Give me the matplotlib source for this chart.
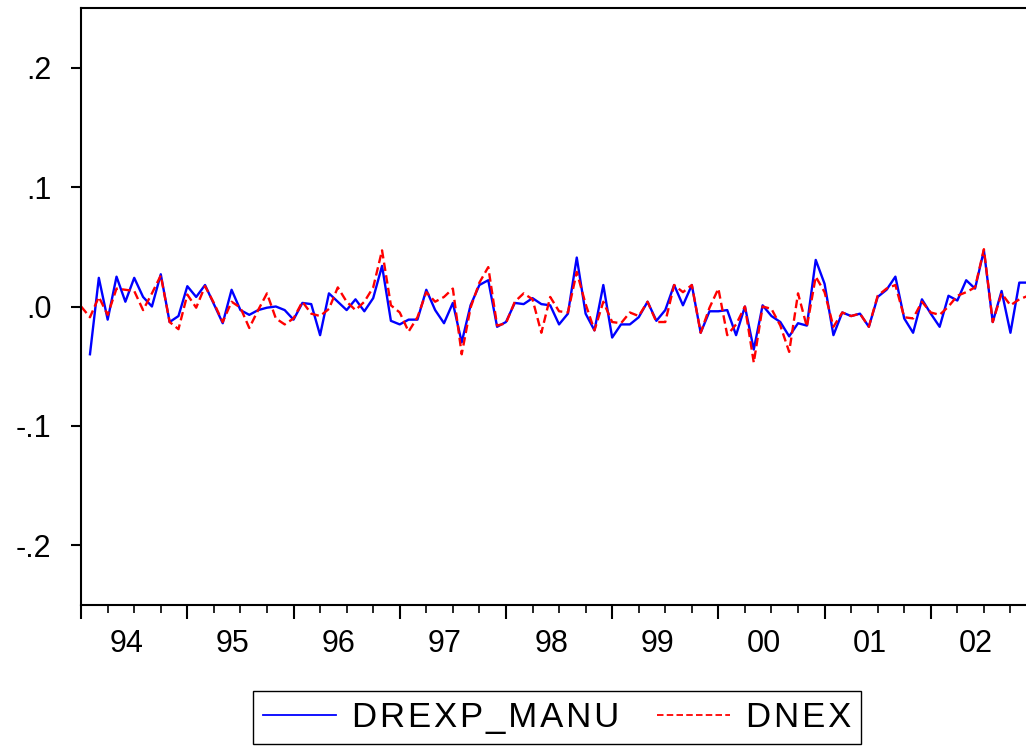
import numpy as np
import matplotlib.pyplot as plt

plt.rcParams['font.family'] = ['Liberation Sans', 'DejaVu Sans']

# monthly data, starting 1994M1
drexp_manu = [np.nan, -0.040, 0.024, -0.011, 0.025, 0.004, 0.024, 0.008, 0.000, 0.027,
              -0.013, -0.008, 0.017, 0.008, 0.018, 0.002, -0.014, 0.014, -0.003, -0.007,
              -0.003, -0.001, 0.000, -0.003, -0.011, 0.003, 0.002, -0.024, 0.011, 0.004,
              -0.003, 0.006, -0.004, 0.007, 0.034, -0.012, -0.015, -0.011, -0.011, 0.014,
              -0.003, -0.014, 0.003, -0.030, 0.001, 0.018, 0.022, -0.017, -0.013, 0.003,
              0.002, 0.007, 0.002, 0.001, -0.015, -0.006, 0.041, -0.006, -0.020, 0.018,
              -0.026, -0.015, -0.015, -0.009, 0.004, -0.012, -0.003, 0.018, 0.001, 0.018,
              -0.022, -0.004, -0.004, -0.003, -0.024, 0.000, -0.036, 0.001, -0.008, -0.013,
              -0.025, -0.014, -0.016, 0.039, 0.019, -0.024, -0.005, -0.008, -0.006, -0.017,
              0.008, 0.014, 0.025, -0.010, -0.022, 0.006, -0.006, -0.017, 0.009, 0.005,
              0.022, 0.015, 0.047, -0.013, 0.013, -0.022, 0.020, 0.020]
dnex = [0.000, -0.009, 0.008, -0.007, 0.015, 0.014, 0.013, -0.003, 0.011, 0.026,
        -0.013, -0.019, 0.010, -0.001, 0.017, 0.003, -0.013, 0.004, -0.001, -0.018,
        -0.003, 0.011, -0.010, -0.015, -0.010, 0.004, -0.006, -0.008, -0.002, 0.016,
        0.004, -0.003, 0.004, 0.016, 0.047, 0.001, -0.005, -0.021, -0.009, 0.012,
        0.004, 0.008, 0.015, -0.040, -0.001, 0.020, 0.033, -0.016, -0.014, 0.004,
        0.011, 0.006, -0.022, 0.008, -0.004, -0.005, 0.029, 0.002, -0.020, 0.004,
        -0.013, -0.014, -0.005, -0.008, 0.004, -0.013, -0.013, 0.018, 0.012, 0.018,
        -0.022, -0.001, 0.015, -0.024, -0.015, 0.000, -0.047, 0.000, -0.002, -0.016,
        -0.038, 0.011, -0.017, 0.025, 0.012, -0.017, -0.005, -0.008, -0.006, -0.017,
        0.009, 0.015, 0.018, -0.009, -0.010, 0.004, -0.005, -0.007, 0.000, 0.009,
        0.012, 0.016, 0.048, -0.013, 0.011, 0.001, 0.006, 0.009]
year_labels = ['94', '95', '96', '97', '98', '99', '00', '01', '02']
y_ticks = [-0.2, -0.1, 0.0, 0.1, 0.2]

months = np.arange(len(dnex))

fig = plt.figure(figsize=(10.26, 7.47), dpi=100)
ax = fig.add_axes([80.5 / 1026, 1 - 605 / 747, (1037 - 80.5) / 1026, (605 - 8) / 747])

ax.plot(months, drexp_manu, color='blue', lw=1.7, label='\u200a'.join('DREXP_MANU'))
ax.plot(months, dnex, color='red', lw=1.7, dashes=(3.6, 1.8), label='\u200a'.join('DNEX'))

ax.set_xlim(-0.07, 107.5)
ax.set_ylim(-0.25, 0.25)

for s in ['left', 'top', 'bottom']:
    ax.spines[s].set_linewidth(1.5)
ax.spines['right'].set_visible(False)

# y axis: .2 style labels
ax.set_yticks(y_ticks)
ax.yaxis.set_major_formatter(lambda v, p: ('%.1f' % v).replace('0.', '.'))
ax.tick_params(axis='y', direction='out', length=7, width=1.5, pad=14, labelsize=22)

# x axis: year ticks, quarter minor ticks, labels in mid year
ax.set_xticks(np.arange(0, 109, 12))
ax.set_xticks(np.arange(0, 109, 3), minor=True)
ax.set_xticklabels([])
ax.tick_params(axis='x', which='major', direction='out', length=10, width=1.5)
ax.tick_params(axis='x', which='minor', direction='out', length=6, width=1.2)

sec = ax.secondary_xaxis('bottom')
sec.set_xticks(np.arange(len(year_labels)) * 12 + 5.1, year_labels)
sec.tick_params(length=0, pad=17, labelsize=22)
sec.spines['bottom'].set_visible(False)

leg = fig.legend(loc='center', bbox_to_anchor=(557 / 1026, 1 - 717.5 / 747), ncol=2,
                 fontsize=25, fancybox=False, edgecolor='black', framealpha=1,
                 handlelength=2.1, handletextpad=0.45, columnspacing=1.1,
                 borderpad=0.3, borderaxespad=0)
leg.get_frame().set_linewidth(1.0)
for line in leg.get_lines():
    line.set_linewidth(1.3)

fig.savefig('out.png', dpi=100)
